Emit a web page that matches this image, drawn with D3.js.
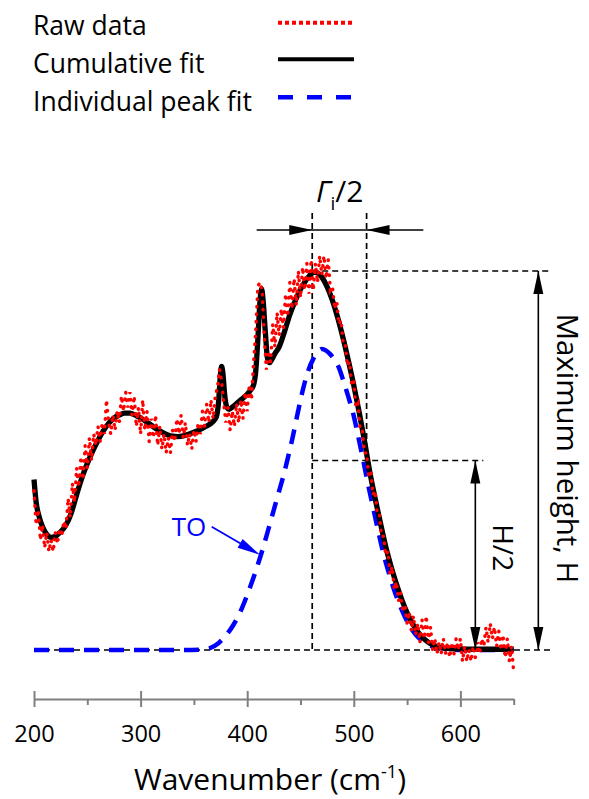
<!DOCTYPE html>
<html><head><meta charset="utf-8">
<script src="https://cdn.jsdelivr.net/npm/d3@7"></script>
<style>
html,body{margin:0;padding:0;background:#fff;}
svg{display:block;font-family:"Open Sans",sans-serif;}
</style></head><body>
<svg id="chart" width="589" height="799"></svg>
<script>
// ---------- data ----------
const rawStart = 200, rawStep = 2;
const rawValues = [
0.42,0.33,0.37,0.29,0.33,0.27,0.31,0.26,0.29,0.26,
0.31,0.28,0.32,0.30,0.34,0.32,0.40,0.35,0.44,0.39,
0.48,0.43,0.51,0.45,0.54,0.48,0.56,0.50,0.57,0.54,
0.59,0.55,0.60,0.57,0.66,0.60,0.57,0.62,0.58,0.63,
0.60,0.67,0.63,0.68,0.64,0.68,0.62,0.67,0.59,0.64,
0.57,0.66,0.58,0.63,0.55,0.61,0.56,0.62,0.54,0.59,
0.53,0.57,0.52,0.56,0.52,0.58,0.55,0.61,0.57,0.62,
0.56,0.60,0.54,0.57,0.53,0.58,0.55,0.60,0.57,0.63,
0.59,0.65,0.60,0.66,0.61,0.67,0.69,0.74,0.71,0.65,
0.60,0.64,0.58,0.63,0.59,0.65,0.60,0.66,0.61,0.68,
0.63,0.70,0.66,0.76,0.84,0.96,0.97,0.95,0.83,0.74,
0.78,0.76,0.86,0.80,0.89,0.83,0.90,0.85,0.94,0.88,
0.97,0.90,0.98,0.91,1.00,0.93,1.01,0.95,1.02,0.94,
1.03,0.95,1.02,0.97,1.04,0.99,1.04,0.98,1.03,0.95,
0.96,0.90,0.92,0.86,0.87,0.81,0.81,0.75,0.76,0.70,
0.71,0.64,0.65,0.58,0.58,0.52,0.52,0.46,0.47,0.41,
0.42,0.36,0.36,0.30,0.30,0.25,0.26,0.20,0.22,0.16,
0.18,0.13,0.15,0.10,0.12,0.07,0.10,0.05,0.09,0.04,
0.07,0.02,0.08,0.03,0.09,0.02,0.06,0.00,0.03,-0.01,
0.02,-0.01,0.03,-0.01,0.02,-0.02,0.02,-0.01,0.03,0.00,
0.03,-0.03,0.01,-0.03,0.00,-0.03,0.01,-0.02,0.02,-0.01,
0.03,0.01,0.06,0.02,0.07,0.03,0.06,0.01,0.05,0.00,
0.04,-0.02,0.03,-0.03,0.01,-0.06
];
const fitWavenumbers = [200,202,205,208,212,216,220,225,230,235,240,245,250,255,260,265,270,275,280,285,290,295,300,305,310,315,320,325,330,335,340,345,350,355,360,365,368,371,373,375,376,377,379,381,383,386,390,395,400,403,406,408,410,412,413.5,415,417,419,421,423,426,430,435,440,445,450,455,460,463,466,470,475,480,485,490,495,500,505,510,515,520,525,530,535,540,545,550,555,560,565,570,575,580,590,600,620,650];
const fitValues = [0.45,0.39,0.35,0.325,0.305,0.297,0.300,0.312,0.330,0.362,0.410,0.455,0.492,0.525,0.553,0.578,0.598,0.612,0.620,0.625,0.625,0.620,0.612,0.603,0.593,0.583,0.575,0.568,0.564,0.563,0.565,0.569,0.575,0.581,0.588,0.596,0.603,0.615,0.650,0.730,0.748,0.735,0.670,0.640,0.635,0.641,0.650,0.662,0.675,0.685,0.700,0.735,0.820,0.920,0.953,0.920,0.840,0.770,0.758,0.766,0.782,0.800,0.840,0.885,0.921,0.952,0.975,0.992,0.997,0.995,0.984,0.958,0.922,0.876,0.822,0.762,0.698,0.628,0.552,0.470,0.400,0.335,0.272,0.220,0.174,0.133,0.098,0.070,0.048,0.032,0.020,0.012,0.008,0.004,0.003,0.002,0.002];
const peakWavenumbers = [200,250,300,340,355,365,373,380,387,395,401,407,413,418,422,426,430,434,438,442,447,452,457,462,466,470,474,478,482,486,490,495,500,504,509,513,518,523,528,533,538,543,548,553,558,563,570,580,590,600,650];
const peakValues = [0,0,0,0,0.001,0.005,0.018,0.038,0.066,0.110,0.153,0.200,0.252,0.300,0.340,0.380,0.420,0.460,0.505,0.553,0.620,0.684,0.735,0.768,0.785,0.794,0.790,0.780,0.765,0.745,0.712,0.667,0.617,0.565,0.498,0.442,0.377,0.312,0.252,0.202,0.157,0.119,0.087,0.061,0.041,0.027,0.014,0.006,0.002,0,0];
const majorTicks = [200,300,400,500,600];
const minorTicks = [250,350,450,550,650];
const legendLabels = ["Raw data","Cumulative fit","Individual peak fit"];
const xTitle = "Wavenumber (cm";
const xTitleSup = "-1";

// annotation anchors (data units)
const peakCenter = 461, halfPoint = 512;
const H = 1, halfH = 0.5;

// ---------- scales ----------
const svg = d3.select("#chart");
const x = d3.scaleLinear().domain([200,650]).range([34,513.7]);
const y = d3.scaleLinear().domain([0,1]).range([650,271]);

// ---------- axis ----------
const axisG = svg.append("g").attr("transform","translate(0,699)");
axisG.call(d3.axisBottom(x).tickValues(majorTicks).tickSize(8).tickSizeOuter(0).tickPadding(18));
axisG.attr("font-family",null).attr("font-size",null);
axisG.select(".domain").attr("stroke","#808080").attr("stroke-width",2);
axisG.selectAll(".tick line").attr("y1",-8).attr("y2",8).attr("stroke","#808080").attr("stroke-width",2);
axisG.selectAll(".tick text").attr("font-size",23.5).attr("font-family","Open Sans").attr("fill","#000");
const minorG = svg.append("g").attr("transform","translate(0,699)");
minorG.call(d3.axisBottom(x).tickValues(minorTicks).tickSize(6).tickSizeOuter(0).tickFormat(""));
minorG.select(".domain").remove();
minorG.selectAll(".tick line").attr("stroke","#808080").attr("stroke-width",2);

const title = svg.append("text").attr("x",270).attr("y",790).attr("text-anchor","middle")
  .attr("font-size",30).attr("font-family","Open Sans").attr("fill","#000");
title.append("tspan").text(xTitle);
title.append("tspan").text(xTitleSup).attr("font-size",18).attr("dy",-12);
title.append("tspan").text(")").attr("dy",12);

// ---------- dashed guide lines ----------
const guides = [
  [200,0,685.6,0],
  [peakCenter,H,685.6,H],
  [peakCenter,halfH,621.5,halfH],
  [peakCenter,1.153,peakCenter,0],
  [halfPoint,1.153,halfPoint,halfH]
];
svg.append("g").selectAll("line").data(guides).join("line")
  .attr("x1",d=>x(d[0])).attr("y1",d=>y(d[1])).attr("x2",d=>x(d[2])).attr("y2",d=>y(d[3]))
  .attr("stroke","#000").attr("stroke-width",1.7).attr("stroke-dasharray","6,4");

// ---------- data curves ----------
const peakData = peakWavenumbers.map((w,i)=>[w,peakValues[i]]);
const fitData = fitWavenumbers.map((w,i)=>[w,fitValues[i]]);
const rawData = rawValues.map((v,i)=>[rawStart+i*rawStep,v]);
const smooth = d3.line().x(d=>x(d[0])).y(d=>y(d[1])).curve(d3.curveMonotoneX);
const straight = d3.line().x(d=>x(d[0])).y(d=>y(d[1]));

svg.append("path").datum(peakData).attr("d",smooth).attr("fill","none")
  .attr("stroke","#0000ff").attr("stroke-width",4.5).attr("stroke-dasharray","15,10");
svg.append("path").datum(fitData).attr("d",smooth).attr("fill","none")
  .attr("stroke","#000").attr("stroke-width",5.3).attr("stroke-linejoin","round");
svg.append("path").datum(rawData).attr("d",straight).attr("fill","none")
  .attr("stroke","#ff0000").attr("stroke-width",3.4).attr("stroke-linecap","round")
  .attr("stroke-dasharray","0.5,7");

// ---------- arrows ----------
function arrowHead(g, tx, ty, dx, dy, color){
  const len = 23, hw = 5;
  const bx = tx - dx*len, by = ty - dy*len;
  const px = -dy, py = dx;
  g.append("path").attr("d",`M${tx},${ty}L${bx+px*hw},${by+py*hw}L${bx-px*hw},${by-py*hw}Z`).attr("fill",color);
}
const ann = svg.append("g");
const arrowY = y(1.108);
ann.append("line").attr("x1",x(408.9)).attr("x2",x(565.2)).attr("y1",arrowY).attr("y2",arrowY)
  .attr("stroke","#000").attr("stroke-width",1.6);
arrowHead(ann, x(peakCenter), arrowY, 1, 0, "#000");
arrowHead(ann, x(halfPoint), arrowY, -1, 0, "#000");
const hx = x(614);
ann.append("line").attr("x1",hx).attr("x2",hx).attr("y1",y(halfH)).attr("y2",y(0)).attr("stroke","#000").attr("stroke-width",1.6);
arrowHead(ann, hx, y(halfH), 0, -1, "#000");
arrowHead(ann, hx, y(0), 0, 1, "#000");
const mx = x(673.1);
ann.append("line").attr("x1",mx).attr("x2",mx).attr("y1",y(H)).attr("y2",y(0)).attr("stroke","#000").attr("stroke-width",1.6);
arrowHead(ann, mx, y(H), 0, -1, "#000");
arrowHead(ann, mx, y(0), 0, 1, "#000");
const toS = [x(366.7), y(0.325)], toE = [x(412), y(0.251)];
{
  const dx = toE[0]-toS[0], dy = toE[1]-toS[1], L = Math.hypot(dx,dy);
  ann.append("line").attr("x1",toS[0]).attr("y1",toS[1]).attr("x2",toE[0]-dx/L*12).attr("y2",toE[1]-dy/L*12)
    .attr("stroke","#0000ff").attr("stroke-width",1.8);
  arrowHead(ann, toE[0], toE[1], dx/L, dy/L, "#0000ff");
}

// ---------- annotation texts ----------
const gam = svg.append("text").attr("x",x(peakCenter)+27.5).attr("y",y(1.183)).attr("text-anchor","middle")
  .attr("font-size",30).attr("font-family","Open Sans").attr("fill","#000");
gam.append("tspan").text("Γ").attr("font-style","italic");
gam.append("tspan").text("i").attr("font-size",19).attr("dy",8);
gam.append("tspan").text("/2").attr("dy",-8);

svg.append("text").attr("transform",`translate(${x(690.5)},${y(0.532)}) rotate(90)`)
  .attr("text-anchor","middle").attr("font-size",29.5).attr("font-family","Open Sans").attr("fill","#000")
  .text("Maximum height, H");
svg.append("text").attr("transform",`translate(${x(630.9)},${y(0.27)}) rotate(90)`)
  .attr("text-anchor","middle").attr("font-size",28).attr("font-family","Open Sans").attr("fill","#000")
  .text("H/2");
svg.append("text").attr("x",x(329.2)).attr("y",y(0.301)).attr("font-size",26).attr("font-family","Open Sans")
  .attr("fill","#0000ff").text("TO");

// ---------- legend ----------
const legendStyles = [
  {stroke:"#ff0000", width:4, dash:"4,3", ty:35, ly:22.7},
  {stroke:"#000000", width:4, dash:null, ty:72.7, ly:59.3},
  {stroke:"#0000ff", width:4.5, dash:"15,14", ty:111, ly:97.3}
];
const leg = svg.append("g");
legendLabels.forEach((lab,i)=>{
  const s = legendStyles[i];
  leg.append("text").attr("x",33).attr("y",s.ty).attr("font-size",26.5).attr("font-family","Open Sans").attr("fill","#000").text(lab);
  leg.append("line").attr("x1",278).attr("x2",354).attr("y1",s.ly).attr("y2",s.ly)
    .attr("stroke",s.stroke).attr("stroke-width",s.width).attr("stroke-dasharray",s.dash);
});
</script>
</body></html>
